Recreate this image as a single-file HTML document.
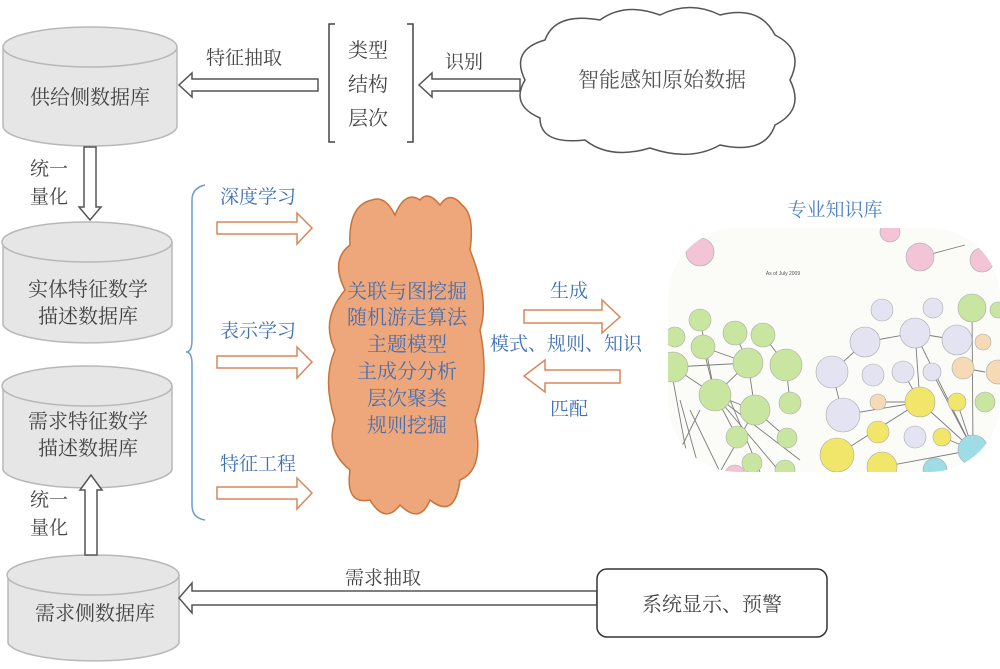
<!DOCTYPE html>
<html><head><meta charset="utf-8"><style>
html,body{margin:0;padding:0;background:#fff;}
svg{display:block;}
text{font-family:"Liberation Serif","Noto Serif CJK SC",serif;}
</style></head><body>
<svg width="1000" height="669" viewBox="0 0 1000 669" xmlns="http://www.w3.org/2000/svg">
<defs>
<clipPath id="kc"><rect x="668" y="228" width="332" height="244" rx="70" ry="70"/></clipPath>
</defs>
<g fill="#e6e6e6" stroke="#b8b8b8" stroke-width="1.5">
<path d="M3 47 L3 126 A87 20 0 0 0 177 126 L177 47"/>
<ellipse cx="90" cy="47" rx="87" ry="20"/>
<path d="M3 242 L3 325 A85 20 0 0 0 172 325 L172 242"/>
<ellipse cx="87" cy="242" rx="85" ry="20"/>
<path d="M3 386 L3 470 A85 20 0 0 0 172 470 L172 386"/>
<ellipse cx="87" cy="386" rx="85" ry="20"/>
<path d="M8 575 L8 643 A86 20 0 0 0 179 643 L179 575"/>
<ellipse cx="93" cy="575" rx="86" ry="20"/>
</g>
<g fill="#444" font-size="20" text-anchor="middle">
<text x="90" y="104">供给侧数据库</text>
<text x="88" y="296">实体特征数学</text>
<text x="88" y="323">描述数据库</text>
<text x="88" y="428">需求特征数学</text>
<text x="88" y="455">描述数据库</text>
<text x="95" y="620">需求侧数据库</text>
</g>
<g fill="#fff" stroke="#555" stroke-width="1.5">
<polygon points="318,79 192,79 192,73 179,85 192,97 192,91 318,91"/>
<polygon points="520,79 432,79 432,73 419,85 432,97 432,91 520,91"/>
<polygon points="84,147 96,147 96,207 101,207 90,220 79,207 84,207"/>
<polygon points="85,555 97,555 97,490 102,490 91,475 80,490 85,490"/>
<polygon points="597,591 192,591 192,583 179,598 192,613 192,605 597,605"/>
</g>
<g fill="#444" font-size="19">
<text x="206" y="64">特征抽取</text>
<text x="445" y="68">识别</text>
<text x="30" y="175">统一</text>
<text x="30" y="203">量化</text>
<text x="30" y="506">统一</text>
<text x="30" y="534">量化</text>
<text x="345" y="584">需求抽取</text>
</g>
<path d="M335 24 L329 24 L329 142 L335 142 M407 24 L413 24 L413 142 L407 142" fill="none" stroke="#444" stroke-width="1.5"/>
<g fill="#444" font-size="20">
<text x="348" y="57">类型</text>
<text x="348" y="91">结构</text>
<text x="348" y="125">层次</text>
</g>
<path d="M525 80 Q510 50 545 40 Q555 12 600 20 Q625 2 660 15 Q690 0 720 15 Q760 5 775 35 Q805 50 790 80 Q805 110 775 125 Q765 155 720 145 Q690 162 650 148 Q610 160 585 140 Q540 145 540 118 Q510 105 525 80 Z" fill="#fff" stroke="#555" stroke-width="1.5"/>
<text x="662" y="87" font-size="21" fill="#555" text-anchor="middle">智能感知原始数据</text>
<path d="M205 185 Q192 188 192 200 L192 340 Q192 352 186 352 Q192 352 192 364 L192 505 Q192 518 205 520" fill="none" stroke="#6d9bd0" stroke-width="1.5"/>
<g fill="#3f6fb5" font-size="19">
<text x="220" y="203">深度学习</text>
<text x="220" y="337">表示学习</text>
<text x="220" y="470">特征工程</text>
<text x="550" y="297">生成</text>
<text x="490" y="350">模式、规则、知识</text>
<text x="550" y="415">匹配</text>
</g>
<g fill="#fff" stroke="#d9875a" stroke-width="1.5">
<polygon points="217,222 297,222 297,213 312,228 297,244 297,234 217,234"/>
<polygon points="217,356 297,356 297,347 312,362 297,378 297,368 217,368"/>
<polygon points="217,487 297,487 297,478 312,493 297,509 297,499 217,499"/>
<polygon points="524,310 602,310 602,300 620,317 602,333 602,323 524,323"/>
<polygon points="620,370 545,370 545,360 524,376 545,392 545,383 620,383"/>
</g>
<path d="M345 290 Q330 260 350 245 Q348 205 372 200 Q385 195 395 215 Q405 190 420 200 Q428 190 440 205 Q450 190 462 205 Q475 215 470 250 Q490 300 480 330 Q490 380 475 420 Q485 470 460 480 Q455 520 430 500 Q420 525 400 505 Q385 525 370 500 Q345 505 350 470 Q325 450 335 420 Q322 380 335 350 Q320 320 345 290 Z" fill="#eda77b" stroke="#c8733a" stroke-width="1.5"/>
<g fill="#4a6fae" font-size="20" text-anchor="middle">
<text x="407" y="298">关联与图挖掘</text>
<text x="407" y="324">随机游走算法</text>
<text x="407" y="351">主题模型</text>
<text x="407" y="378">主成分分析</text>
<text x="407" y="405">层次聚类</text>
<text x="407" y="432">规则挖掘</text>
</g>
<text x="835" y="216" fill="#4a80c4" font-size="19" text-anchor="middle">专业知识库</text>
<g clip-path="url(#kc)">
<rect x="668" y="228" width="332" height="244" fill="#fbfbf8"/>
<g stroke="#666" stroke-width="0.9" opacity="0.85">
<line x1="673" y1="367" x2="748" y2="363"/><line x1="715" y1="395" x2="748" y2="363"/><line x1="715" y1="395" x2="755" y2="410"/>
<line x1="703" y1="347" x2="715" y2="395"/><line x1="715" y1="395" x2="737" y2="437"/><line x1="748" y1="363" x2="755" y2="410"/>
<line x1="786" y1="365" x2="790" y2="403"/><line x1="755" y1="410" x2="787" y2="438"/><line x1="680" y1="400" x2="700" y2="472"/>
<line x1="690" y1="410" x2="720" y2="472"/><line x1="715" y1="395" x2="780" y2="472"/><line x1="735" y1="333" x2="748" y2="363"/>
<line x1="673" y1="380" x2="690" y2="472"/><line x1="700" y1="410" x2="670" y2="470"/><line x1="715" y1="395" x2="800" y2="460"/>
<line x1="703" y1="347" x2="748" y2="363"/><line x1="700" y1="320" x2="715" y2="395"/><line x1="763" y1="335" x2="786" y2="365"/>
<line x1="730" y1="400" x2="760" y2="472"/><line x1="755" y1="410" x2="720" y2="472"/><line x1="673" y1="367" x2="715" y2="395"/>
<line x1="832" y1="372" x2="865" y2="342"/><line x1="865" y1="342" x2="915" y2="333"/><line x1="915" y1="333" x2="957" y2="340"/>
<line x1="832" y1="372" x2="843" y2="415"/><line x1="843" y1="415" x2="920" y2="402"/><line x1="878" y1="402" x2="920" y2="402"/>
<line x1="915" y1="333" x2="920" y2="402"/><line x1="920" y1="402" x2="973" y2="450"/><line x1="957" y1="402" x2="973" y2="450"/>
<line x1="972" y1="308" x2="973" y2="450"/><line x1="942" y1="437" x2="973" y2="450"/><line x1="963" y1="368" x2="985" y2="372"/>
<line x1="882" y1="467" x2="973" y2="450"/><line x1="903" y1="372" x2="920" y2="402"/><line x1="920" y1="257" x2="965" y2="245"/>
<line x1="915" y1="333" x2="973" y2="450"/><line x1="932" y1="372" x2="973" y2="450"/><line x1="837" y1="455" x2="920" y2="402"/>
</g>
<g stroke="#aaa" stroke-width="0.6">
<g fill="#c9e6a0">
<circle cx="700" cy="320" r="11"/><circle cx="703" cy="347" r="12"/><circle cx="735" cy="333" r="12"/><circle cx="763" cy="335" r="12"/>
<circle cx="748" cy="363" r="15"/><circle cx="786" cy="365" r="16"/><circle cx="715" cy="395" r="16"/><circle cx="755" cy="410" r="15"/>
<circle cx="790" cy="403" r="11"/><circle cx="737" cy="437" r="11"/><circle cx="787" cy="438" r="10"/><circle cx="673" cy="367" r="15"/>
<circle cx="675" cy="337" r="10"/><circle cx="752" cy="463" r="10"/><circle cx="972" cy="308" r="14"/><circle cx="985" cy="402" r="10"/><circle cx="998" cy="310" r="8"/><circle cx="785" cy="470" r="10"/>
</g>
<g fill="#e3e3f2">
<circle cx="882" cy="310" r="11"/><circle cx="933" cy="308" r="10"/><circle cx="915" cy="333" r="15"/><circle cx="865" cy="342" r="15"/>
<circle cx="957" cy="340" r="15"/><circle cx="832" cy="372" r="16"/><circle cx="873" cy="375" r="11"/><circle cx="903" cy="372" r="11"/>
<circle cx="932" cy="372" r="9"/><circle cx="843" cy="415" r="17"/><circle cx="915" cy="437" r="11"/>
</g>
<g fill="#f6d9b5"><circle cx="963" cy="368" r="11"/><circle cx="983" cy="342" r="8"/><circle cx="878" cy="402" r="8"/><circle cx="998" cy="372" r="12"/></g>
<g fill="#f1e66a"><circle cx="920" cy="402" r="15"/><circle cx="957" cy="402" r="9"/><circle cx="878" cy="432" r="11"/><circle cx="942" cy="437" r="9"/><circle cx="837" cy="455" r="17"/><circle cx="882" cy="467" r="15"/></g>
<g fill="#f3c3d6"><circle cx="700" cy="252" r="14"/><circle cx="920" cy="257" r="14"/><circle cx="890" cy="232" r="10"/><circle cx="982" cy="260" r="12"/><circle cx="735" cy="475" r="10"/></g>
<g fill="#9edde6"><circle cx="973" cy="450" r="15"/><circle cx="935" cy="470" r="12"/></g>
</g>
<text x="783" y="275" font-size="5" fill="#555" text-anchor="middle" style="font-family:'Liberation Sans',sans-serif">As of July 2009</text>
</g>
<rect x="597" y="569" width="230" height="68" rx="10" fill="#fff" stroke="#333" stroke-width="1.5"/>
<text x="712" y="611" font-size="20" fill="#444" text-anchor="middle">系统显示、预警</text>
</svg>
</body></html>
